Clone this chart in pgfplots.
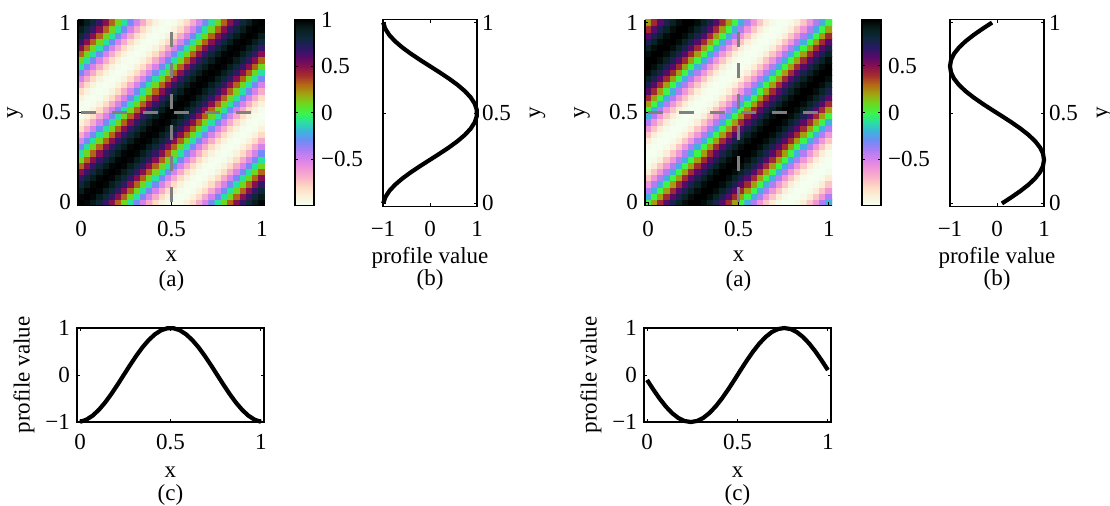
\documentclass[border=0pt]{standalone}
\usepackage{fontspec}
\setmainfont{Liberation Serif}
\usepackage{pgfplots}
\pgfplotsset{compat=1.18}
\newcommand{\ff}{\fontsize{11.5}{13}\selectfont}
\pgfplotsset{
 colormap={prof}{rgb255=(244,255,240) rgb255=(250,242,220) rgb255=(255,218,196) rgb255=(250,180,200) rgb255=(240,150,215) rgb255=(215,130,235) rgb255=(170,125,245) rgb255=(110,140,245) rgb255=(60,180,220) rgb255=(40,225,160) rgb255=(60,245,70) rgb255=(110,215,30) rgb255=(160,165,15) rgb255=(180,105,20) rgb255=(165,45,45) rgb255=(135,15,80) rgb255=(85,10,105) rgb255=(40,25,100) rgb255=(15,40,60) rgb255=(8,32,30) rgb255=(0,0,0)},
 base/.style={scale only axis, font=\ff, tick label style={font=\ff}, label style={font=\ff}, tick align=inside, major tick length=1.6pt, axis line style={line width=0.6pt}, every tick/.style={black, line width=0.5pt}},
 hm/.style={base, width=93.5pt, height=93pt, xmin=-0.5, xmax=29.5, ymin=-0.5, ymax=29.5,
   axis x line*=bottom, axis y line*=left, axis line style={-},
   xtick={0,14.5,29}, ytick={0,14.5,29}, xticklabels={0,0.5,1}, yticklabels={0,0.5,1},
   axis on top, colormap name=prof, xticklabel style={yshift=-4.5pt},
   xlabel={x}, xlabel style={at={(axis description cs:0.5,0)}, anchor=center, yshift=-25.25pt},
   ylabel={y}, ylabel style={at={(axis description cs:-0.337,0.5)}, anchor=center},
   colorbar, colorbar style={scale only axis, width=9.5pt, height=93pt, at={(parent axis.north east)}, anchor=north west, xshift=6.5pt, tick align=inside, major tick length=1.6pt, ytick pos=both, yticklabel pos=right, axis line style={line width=0.9pt}, font=\ff, tick label style={font=\ff}}},
 pb/.style={base, width=47pt, height=93.5pt, xmin=-1, xmax=1, ymin=-0.017, ymax=1.017, clip=false,
   xtick={-1,0,1}, xticklabels={−1,0,1}, ytick={0,0.5,1}, yticklabels={0,0.5,1}, yticklabel pos=right,
   xticklabel style={yshift=-3.8pt}, yticklabel style={xshift=-1pt},
   xlabel={profile value}, xlabel style={at={(axis description cs:0.5,0)}, anchor=center, yshift=-25.5pt},
   ylabel={y}, ylabel style={at={(axis description cs:1.644,0.5)}, anchor=center}},
 pc/.style={base, width=93.5pt, height=47pt, xmin=-0.017, xmax=1.017, ymin=-1, ymax=1, clip=false,
   xtick={0,0.5,1}, xticklabels={0,0.5,1}, ytick={-1,0,1}, yticklabels={−1,0,1},
   xticklabel style={yshift=-2.5pt},
   xlabel={x}, xlabel style={at={(axis description cs:0.5,0)}, anchor=center, yshift=-25pt},
   ylabel={profile value}, ylabel style={at={(axis description cs:-0.283,0.5)}, anchor=center}},
 dl/.style={color=gray, line width=1.7pt, dash pattern=on 7.5pt off 8pt},
 pl/.style={black, line width=2.1pt},
}
\pgfplotstableread{
y lb rb
0 -0.995 0.105
0.0345 -0.951 0.309
0.069 -0.866 0.5
0.1034 -0.743 0.669
0.1379 -0.588 0.809
0.1724 -0.407 0.914
0.2069 -0.208 0.978
0.2414 0 1
0.2759 0.208 0.978
0.3103 0.407 0.914
0.3448 0.588 0.809
0.3793 0.743 0.669
0.4138 0.866 0.5
0.4483 0.951 0.309
0.4828 0.995 0.105
0.5172 0.995 -0.105
0.5517 0.951 -0.309
0.5862 0.866 -0.5
0.6207 0.743 -0.669
0.6552 0.588 -0.809
0.6897 0.407 -0.914
0.7241 0.208 -0.978
0.7586 0 -1
0.7931 -0.208 -0.978
0.8276 -0.407 -0.914
0.8621 -0.588 -0.809
0.8966 -0.743 -0.669
0.931 -0.866 -0.5
0.9655 -0.951 -0.309
1 -0.995 -0.105
}\profb
\pgfplotstableread{
x lc rc
0 -0.995 -0.105
0.0345 -0.951 -0.309
0.069 -0.866 -0.5
0.1034 -0.743 -0.669
0.1379 -0.588 -0.809
0.1724 -0.407 -0.914
0.2069 -0.208 -0.978
0.2414 0 -1
0.2759 0.208 -0.978
0.3103 0.407 -0.914
0.3448 0.588 -0.809
0.3793 0.743 -0.669
0.4138 0.866 -0.5
0.4483 0.951 -0.309
0.4828 0.995 -0.105
0.5172 0.995 0.105
0.5517 0.951 0.309
0.5862 0.866 0.5
0.6207 0.743 0.669
0.6552 0.588 0.809
0.6897 0.407 0.914
0.7241 0.208 0.978
0.7586 0 1
0.7931 -0.208 0.978
0.8276 -0.407 0.914
0.8621 -0.588 0.809
0.8966 -0.743 0.669
0.931 -0.866 0.5
0.9655 -0.951 0.309
1 -0.995 0.105
}\profc
\begin{document}
\begin{tikzpicture}
\useasboundingbox (0,0) rectangle (555pt,-252.5pt);
% ---------- left (a)
\begin{axis}[hm, name=la, at={(39pt,-9.75pt)}, anchor=north west,
  colorbar style={ytick={-0.5,0,0.5,1}, yticklabels={−0.5,0,0.5,1}}]
\addplot[matrix plot*, mesh/cols=30, point meta=explicit] table[row sep=\\, meta=z] {
x y z\\
0 0 1\\ 1 0 0.98\\ 2 0 0.91\\ 3 0 0.81\\ 4 0 0.67\\ 5 0 0.5\\ 6 0 0.31\\ 7 0 0.1\\ 8 0 -0.1\\ 9 0 -0.31\\ 10 0 -0.5\\ 11 0 -0.67\\ 12 0 -0.81\\ 13 0 -0.91\\ 14 0 -0.98\\ 15 0 -1\\ 16 0 -0.98\\ 17 0 -0.91\\ 18 0 -0.81\\ 19 0 -0.67\\ 20 0 -0.5\\ 21 0 -0.31\\ 22 0 -0.1\\ 23 0 0.1\\ 24 0 0.31\\ 25 0 0.5\\ 26 0 0.67\\ 27 0 0.81\\ 28 0 0.91\\ 29 0 0.98\\
0 1 0.98\\ 1 1 1\\ 2 1 0.98\\ 3 1 0.91\\ 4 1 0.81\\ 5 1 0.67\\ 6 1 0.5\\ 7 1 0.31\\ 8 1 0.1\\ 9 1 -0.1\\ 10 1 -0.31\\ 11 1 -0.5\\ 12 1 -0.67\\ 13 1 -0.81\\ 14 1 -0.91\\ 15 1 -0.98\\ 16 1 -1\\ 17 1 -0.98\\ 18 1 -0.91\\ 19 1 -0.81\\ 20 1 -0.67\\ 21 1 -0.5\\ 22 1 -0.31\\ 23 1 -0.1\\ 24 1 0.1\\ 25 1 0.31\\ 26 1 0.5\\ 27 1 0.67\\ 28 1 0.81\\ 29 1 0.91\\
0 2 0.91\\ 1 2 0.98\\ 2 2 1\\ 3 2 0.98\\ 4 2 0.91\\ 5 2 0.81\\ 6 2 0.67\\ 7 2 0.5\\ 8 2 0.31\\ 9 2 0.1\\ 10 2 -0.1\\ 11 2 -0.31\\ 12 2 -0.5\\ 13 2 -0.67\\ 14 2 -0.81\\ 15 2 -0.91\\ 16 2 -0.98\\ 17 2 -1\\ 18 2 -0.98\\ 19 2 -0.91\\ 20 2 -0.81\\ 21 2 -0.67\\ 22 2 -0.5\\ 23 2 -0.31\\ 24 2 -0.1\\ 25 2 0.1\\ 26 2 0.31\\ 27 2 0.5\\ 28 2 0.67\\ 29 2 0.81\\
0 3 0.81\\ 1 3 0.91\\ 2 3 0.98\\ 3 3 1\\ 4 3 0.98\\ 5 3 0.91\\ 6 3 0.81\\ 7 3 0.67\\ 8 3 0.5\\ 9 3 0.31\\ 10 3 0.1\\ 11 3 -0.1\\ 12 3 -0.31\\ 13 3 -0.5\\ 14 3 -0.67\\ 15 3 -0.81\\ 16 3 -0.91\\ 17 3 -0.98\\ 18 3 -1\\ 19 3 -0.98\\ 20 3 -0.91\\ 21 3 -0.81\\ 22 3 -0.67\\ 23 3 -0.5\\ 24 3 -0.31\\ 25 3 -0.1\\ 26 3 0.1\\ 27 3 0.31\\ 28 3 0.5\\ 29 3 0.67\\
0 4 0.67\\ 1 4 0.81\\ 2 4 0.91\\ 3 4 0.98\\ 4 4 1\\ 5 4 0.98\\ 6 4 0.91\\ 7 4 0.81\\ 8 4 0.67\\ 9 4 0.5\\ 10 4 0.31\\ 11 4 0.1\\ 12 4 -0.1\\ 13 4 -0.31\\ 14 4 -0.5\\ 15 4 -0.67\\ 16 4 -0.81\\ 17 4 -0.91\\ 18 4 -0.98\\ 19 4 -1\\ 20 4 -0.98\\ 21 4 -0.91\\ 22 4 -0.81\\ 23 4 -0.67\\ 24 4 -0.5\\ 25 4 -0.31\\ 26 4 -0.1\\ 27 4 0.1\\ 28 4 0.31\\ 29 4 0.5\\
0 5 0.5\\ 1 5 0.67\\ 2 5 0.81\\ 3 5 0.91\\ 4 5 0.98\\ 5 5 1\\ 6 5 0.98\\ 7 5 0.91\\ 8 5 0.81\\ 9 5 0.67\\ 10 5 0.5\\ 11 5 0.31\\ 12 5 0.1\\ 13 5 -0.1\\ 14 5 -0.31\\ 15 5 -0.5\\ 16 5 -0.67\\ 17 5 -0.81\\ 18 5 -0.91\\ 19 5 -0.98\\ 20 5 -1\\ 21 5 -0.98\\ 22 5 -0.91\\ 23 5 -0.81\\ 24 5 -0.67\\ 25 5 -0.5\\ 26 5 -0.31\\ 27 5 -0.1\\ 28 5 0.1\\ 29 5 0.31\\
0 6 0.31\\ 1 6 0.5\\ 2 6 0.67\\ 3 6 0.81\\ 4 6 0.91\\ 5 6 0.98\\ 6 6 1\\ 7 6 0.98\\ 8 6 0.91\\ 9 6 0.81\\ 10 6 0.67\\ 11 6 0.5\\ 12 6 0.31\\ 13 6 0.1\\ 14 6 -0.1\\ 15 6 -0.31\\ 16 6 -0.5\\ 17 6 -0.67\\ 18 6 -0.81\\ 19 6 -0.91\\ 20 6 -0.98\\ 21 6 -1\\ 22 6 -0.98\\ 23 6 -0.91\\ 24 6 -0.81\\ 25 6 -0.67\\ 26 6 -0.5\\ 27 6 -0.31\\ 28 6 -0.1\\ 29 6 0.1\\
0 7 0.1\\ 1 7 0.31\\ 2 7 0.5\\ 3 7 0.67\\ 4 7 0.81\\ 5 7 0.91\\ 6 7 0.98\\ 7 7 1\\ 8 7 0.98\\ 9 7 0.91\\ 10 7 0.81\\ 11 7 0.67\\ 12 7 0.5\\ 13 7 0.31\\ 14 7 0.1\\ 15 7 -0.1\\ 16 7 -0.31\\ 17 7 -0.5\\ 18 7 -0.67\\ 19 7 -0.81\\ 20 7 -0.91\\ 21 7 -0.98\\ 22 7 -1\\ 23 7 -0.98\\ 24 7 -0.91\\ 25 7 -0.81\\ 26 7 -0.67\\ 27 7 -0.5\\ 28 7 -0.31\\ 29 7 -0.1\\
0 8 -0.1\\ 1 8 0.1\\ 2 8 0.31\\ 3 8 0.5\\ 4 8 0.67\\ 5 8 0.81\\ 6 8 0.91\\ 7 8 0.98\\ 8 8 1\\ 9 8 0.98\\ 10 8 0.91\\ 11 8 0.81\\ 12 8 0.67\\ 13 8 0.5\\ 14 8 0.31\\ 15 8 0.1\\ 16 8 -0.1\\ 17 8 -0.31\\ 18 8 -0.5\\ 19 8 -0.67\\ 20 8 -0.81\\ 21 8 -0.91\\ 22 8 -0.98\\ 23 8 -1\\ 24 8 -0.98\\ 25 8 -0.91\\ 26 8 -0.81\\ 27 8 -0.67\\ 28 8 -0.5\\ 29 8 -0.31\\
0 9 -0.31\\ 1 9 -0.1\\ 2 9 0.1\\ 3 9 0.31\\ 4 9 0.5\\ 5 9 0.67\\ 6 9 0.81\\ 7 9 0.91\\ 8 9 0.98\\ 9 9 1\\ 10 9 0.98\\ 11 9 0.91\\ 12 9 0.81\\ 13 9 0.67\\ 14 9 0.5\\ 15 9 0.31\\ 16 9 0.1\\ 17 9 -0.1\\ 18 9 -0.31\\ 19 9 -0.5\\ 20 9 -0.67\\ 21 9 -0.81\\ 22 9 -0.91\\ 23 9 -0.98\\ 24 9 -1\\ 25 9 -0.98\\ 26 9 -0.91\\ 27 9 -0.81\\ 28 9 -0.67\\ 29 9 -0.5\\
0 10 -0.5\\ 1 10 -0.31\\ 2 10 -0.1\\ 3 10 0.1\\ 4 10 0.31\\ 5 10 0.5\\ 6 10 0.67\\ 7 10 0.81\\ 8 10 0.91\\ 9 10 0.98\\ 10 10 1\\ 11 10 0.98\\ 12 10 0.91\\ 13 10 0.81\\ 14 10 0.67\\ 15 10 0.5\\ 16 10 0.31\\ 17 10 0.1\\ 18 10 -0.1\\ 19 10 -0.31\\ 20 10 -0.5\\ 21 10 -0.67\\ 22 10 -0.81\\ 23 10 -0.91\\ 24 10 -0.98\\ 25 10 -1\\ 26 10 -0.98\\ 27 10 -0.91\\ 28 10 -0.81\\ 29 10 -0.67\\
0 11 -0.67\\ 1 11 -0.5\\ 2 11 -0.31\\ 3 11 -0.1\\ 4 11 0.1\\ 5 11 0.31\\ 6 11 0.5\\ 7 11 0.67\\ 8 11 0.81\\ 9 11 0.91\\ 10 11 0.98\\ 11 11 1\\ 12 11 0.98\\ 13 11 0.91\\ 14 11 0.81\\ 15 11 0.67\\ 16 11 0.5\\ 17 11 0.31\\ 18 11 0.1\\ 19 11 -0.1\\ 20 11 -0.31\\ 21 11 -0.5\\ 22 11 -0.67\\ 23 11 -0.81\\ 24 11 -0.91\\ 25 11 -0.98\\ 26 11 -1\\ 27 11 -0.98\\ 28 11 -0.91\\ 29 11 -0.81\\
0 12 -0.81\\ 1 12 -0.67\\ 2 12 -0.5\\ 3 12 -0.31\\ 4 12 -0.1\\ 5 12 0.1\\ 6 12 0.31\\ 7 12 0.5\\ 8 12 0.67\\ 9 12 0.81\\ 10 12 0.91\\ 11 12 0.98\\ 12 12 1\\ 13 12 0.98\\ 14 12 0.91\\ 15 12 0.81\\ 16 12 0.67\\ 17 12 0.5\\ 18 12 0.31\\ 19 12 0.1\\ 20 12 -0.1\\ 21 12 -0.31\\ 22 12 -0.5\\ 23 12 -0.67\\ 24 12 -0.81\\ 25 12 -0.91\\ 26 12 -0.98\\ 27 12 -1\\ 28 12 -0.98\\ 29 12 -0.91\\
0 13 -0.91\\ 1 13 -0.81\\ 2 13 -0.67\\ 3 13 -0.5\\ 4 13 -0.31\\ 5 13 -0.1\\ 6 13 0.1\\ 7 13 0.31\\ 8 13 0.5\\ 9 13 0.67\\ 10 13 0.81\\ 11 13 0.91\\ 12 13 0.98\\ 13 13 1\\ 14 13 0.98\\ 15 13 0.91\\ 16 13 0.81\\ 17 13 0.67\\ 18 13 0.5\\ 19 13 0.31\\ 20 13 0.1\\ 21 13 -0.1\\ 22 13 -0.31\\ 23 13 -0.5\\ 24 13 -0.67\\ 25 13 -0.81\\ 26 13 -0.91\\ 27 13 -0.98\\ 28 13 -1\\ 29 13 -0.98\\
0 14 -0.98\\ 1 14 -0.91\\ 2 14 -0.81\\ 3 14 -0.67\\ 4 14 -0.5\\ 5 14 -0.31\\ 6 14 -0.1\\ 7 14 0.1\\ 8 14 0.31\\ 9 14 0.5\\ 10 14 0.67\\ 11 14 0.81\\ 12 14 0.91\\ 13 14 0.98\\ 14 14 1\\ 15 14 0.98\\ 16 14 0.91\\ 17 14 0.81\\ 18 14 0.67\\ 19 14 0.5\\ 20 14 0.31\\ 21 14 0.1\\ 22 14 -0.1\\ 23 14 -0.31\\ 24 14 -0.5\\ 25 14 -0.67\\ 26 14 -0.81\\ 27 14 -0.91\\ 28 14 -0.98\\ 29 14 -1\\
0 15 -1\\ 1 15 -0.98\\ 2 15 -0.91\\ 3 15 -0.81\\ 4 15 -0.67\\ 5 15 -0.5\\ 6 15 -0.31\\ 7 15 -0.1\\ 8 15 0.1\\ 9 15 0.31\\ 10 15 0.5\\ 11 15 0.67\\ 12 15 0.81\\ 13 15 0.91\\ 14 15 0.98\\ 15 15 1\\ 16 15 0.98\\ 17 15 0.91\\ 18 15 0.81\\ 19 15 0.67\\ 20 15 0.5\\ 21 15 0.31\\ 22 15 0.1\\ 23 15 -0.1\\ 24 15 -0.31\\ 25 15 -0.5\\ 26 15 -0.67\\ 27 15 -0.81\\ 28 15 -0.91\\ 29 15 -0.98\\
0 16 -0.98\\ 1 16 -1\\ 2 16 -0.98\\ 3 16 -0.91\\ 4 16 -0.81\\ 5 16 -0.67\\ 6 16 -0.5\\ 7 16 -0.31\\ 8 16 -0.1\\ 9 16 0.1\\ 10 16 0.31\\ 11 16 0.5\\ 12 16 0.67\\ 13 16 0.81\\ 14 16 0.91\\ 15 16 0.98\\ 16 16 1\\ 17 16 0.98\\ 18 16 0.91\\ 19 16 0.81\\ 20 16 0.67\\ 21 16 0.5\\ 22 16 0.31\\ 23 16 0.1\\ 24 16 -0.1\\ 25 16 -0.31\\ 26 16 -0.5\\ 27 16 -0.67\\ 28 16 -0.81\\ 29 16 -0.91\\
0 17 -0.91\\ 1 17 -0.98\\ 2 17 -1\\ 3 17 -0.98\\ 4 17 -0.91\\ 5 17 -0.81\\ 6 17 -0.67\\ 7 17 -0.5\\ 8 17 -0.31\\ 9 17 -0.1\\ 10 17 0.1\\ 11 17 0.31\\ 12 17 0.5\\ 13 17 0.67\\ 14 17 0.81\\ 15 17 0.91\\ 16 17 0.98\\ 17 17 1\\ 18 17 0.98\\ 19 17 0.91\\ 20 17 0.81\\ 21 17 0.67\\ 22 17 0.5\\ 23 17 0.31\\ 24 17 0.1\\ 25 17 -0.1\\ 26 17 -0.31\\ 27 17 -0.5\\ 28 17 -0.67\\ 29 17 -0.81\\
0 18 -0.81\\ 1 18 -0.91\\ 2 18 -0.98\\ 3 18 -1\\ 4 18 -0.98\\ 5 18 -0.91\\ 6 18 -0.81\\ 7 18 -0.67\\ 8 18 -0.5\\ 9 18 -0.31\\ 10 18 -0.1\\ 11 18 0.1\\ 12 18 0.31\\ 13 18 0.5\\ 14 18 0.67\\ 15 18 0.81\\ 16 18 0.91\\ 17 18 0.98\\ 18 18 1\\ 19 18 0.98\\ 20 18 0.91\\ 21 18 0.81\\ 22 18 0.67\\ 23 18 0.5\\ 24 18 0.31\\ 25 18 0.1\\ 26 18 -0.1\\ 27 18 -0.31\\ 28 18 -0.5\\ 29 18 -0.67\\
0 19 -0.67\\ 1 19 -0.81\\ 2 19 -0.91\\ 3 19 -0.98\\ 4 19 -1\\ 5 19 -0.98\\ 6 19 -0.91\\ 7 19 -0.81\\ 8 19 -0.67\\ 9 19 -0.5\\ 10 19 -0.31\\ 11 19 -0.1\\ 12 19 0.1\\ 13 19 0.31\\ 14 19 0.5\\ 15 19 0.67\\ 16 19 0.81\\ 17 19 0.91\\ 18 19 0.98\\ 19 19 1\\ 20 19 0.98\\ 21 19 0.91\\ 22 19 0.81\\ 23 19 0.67\\ 24 19 0.5\\ 25 19 0.31\\ 26 19 0.1\\ 27 19 -0.1\\ 28 19 -0.31\\ 29 19 -0.5\\
0 20 -0.5\\ 1 20 -0.67\\ 2 20 -0.81\\ 3 20 -0.91\\ 4 20 -0.98\\ 5 20 -1\\ 6 20 -0.98\\ 7 20 -0.91\\ 8 20 -0.81\\ 9 20 -0.67\\ 10 20 -0.5\\ 11 20 -0.31\\ 12 20 -0.1\\ 13 20 0.1\\ 14 20 0.31\\ 15 20 0.5\\ 16 20 0.67\\ 17 20 0.81\\ 18 20 0.91\\ 19 20 0.98\\ 20 20 1\\ 21 20 0.98\\ 22 20 0.91\\ 23 20 0.81\\ 24 20 0.67\\ 25 20 0.5\\ 26 20 0.31\\ 27 20 0.1\\ 28 20 -0.1\\ 29 20 -0.31\\
0 21 -0.31\\ 1 21 -0.5\\ 2 21 -0.67\\ 3 21 -0.81\\ 4 21 -0.91\\ 5 21 -0.98\\ 6 21 -1\\ 7 21 -0.98\\ 8 21 -0.91\\ 9 21 -0.81\\ 10 21 -0.67\\ 11 21 -0.5\\ 12 21 -0.31\\ 13 21 -0.1\\ 14 21 0.1\\ 15 21 0.31\\ 16 21 0.5\\ 17 21 0.67\\ 18 21 0.81\\ 19 21 0.91\\ 20 21 0.98\\ 21 21 1\\ 22 21 0.98\\ 23 21 0.91\\ 24 21 0.81\\ 25 21 0.67\\ 26 21 0.5\\ 27 21 0.31\\ 28 21 0.1\\ 29 21 -0.1\\
0 22 -0.1\\ 1 22 -0.31\\ 2 22 -0.5\\ 3 22 -0.67\\ 4 22 -0.81\\ 5 22 -0.91\\ 6 22 -0.98\\ 7 22 -1\\ 8 22 -0.98\\ 9 22 -0.91\\ 10 22 -0.81\\ 11 22 -0.67\\ 12 22 -0.5\\ 13 22 -0.31\\ 14 22 -0.1\\ 15 22 0.1\\ 16 22 0.31\\ 17 22 0.5\\ 18 22 0.67\\ 19 22 0.81\\ 20 22 0.91\\ 21 22 0.98\\ 22 22 1\\ 23 22 0.98\\ 24 22 0.91\\ 25 22 0.81\\ 26 22 0.67\\ 27 22 0.5\\ 28 22 0.31\\ 29 22 0.1\\
0 23 0.1\\ 1 23 -0.1\\ 2 23 -0.31\\ 3 23 -0.5\\ 4 23 -0.67\\ 5 23 -0.81\\ 6 23 -0.91\\ 7 23 -0.98\\ 8 23 -1\\ 9 23 -0.98\\ 10 23 -0.91\\ 11 23 -0.81\\ 12 23 -0.67\\ 13 23 -0.5\\ 14 23 -0.31\\ 15 23 -0.1\\ 16 23 0.1\\ 17 23 0.31\\ 18 23 0.5\\ 19 23 0.67\\ 20 23 0.81\\ 21 23 0.91\\ 22 23 0.98\\ 23 23 1\\ 24 23 0.98\\ 25 23 0.91\\ 26 23 0.81\\ 27 23 0.67\\ 28 23 0.5\\ 29 23 0.31\\
0 24 0.31\\ 1 24 0.1\\ 2 24 -0.1\\ 3 24 -0.31\\ 4 24 -0.5\\ 5 24 -0.67\\ 6 24 -0.81\\ 7 24 -0.91\\ 8 24 -0.98\\ 9 24 -1\\ 10 24 -0.98\\ 11 24 -0.91\\ 12 24 -0.81\\ 13 24 -0.67\\ 14 24 -0.5\\ 15 24 -0.31\\ 16 24 -0.1\\ 17 24 0.1\\ 18 24 0.31\\ 19 24 0.5\\ 20 24 0.67\\ 21 24 0.81\\ 22 24 0.91\\ 23 24 0.98\\ 24 24 1\\ 25 24 0.98\\ 26 24 0.91\\ 27 24 0.81\\ 28 24 0.67\\ 29 24 0.5\\
0 25 0.5\\ 1 25 0.31\\ 2 25 0.1\\ 3 25 -0.1\\ 4 25 -0.31\\ 5 25 -0.5\\ 6 25 -0.67\\ 7 25 -0.81\\ 8 25 -0.91\\ 9 25 -0.98\\ 10 25 -1\\ 11 25 -0.98\\ 12 25 -0.91\\ 13 25 -0.81\\ 14 25 -0.67\\ 15 25 -0.5\\ 16 25 -0.31\\ 17 25 -0.1\\ 18 25 0.1\\ 19 25 0.31\\ 20 25 0.5\\ 21 25 0.67\\ 22 25 0.81\\ 23 25 0.91\\ 24 25 0.98\\ 25 25 1\\ 26 25 0.98\\ 27 25 0.91\\ 28 25 0.81\\ 29 25 0.67\\
0 26 0.67\\ 1 26 0.5\\ 2 26 0.31\\ 3 26 0.1\\ 4 26 -0.1\\ 5 26 -0.31\\ 6 26 -0.5\\ 7 26 -0.67\\ 8 26 -0.81\\ 9 26 -0.91\\ 10 26 -0.98\\ 11 26 -1\\ 12 26 -0.98\\ 13 26 -0.91\\ 14 26 -0.81\\ 15 26 -0.67\\ 16 26 -0.5\\ 17 26 -0.31\\ 18 26 -0.1\\ 19 26 0.1\\ 20 26 0.31\\ 21 26 0.5\\ 22 26 0.67\\ 23 26 0.81\\ 24 26 0.91\\ 25 26 0.98\\ 26 26 1\\ 27 26 0.98\\ 28 26 0.91\\ 29 26 0.81\\
0 27 0.81\\ 1 27 0.67\\ 2 27 0.5\\ 3 27 0.31\\ 4 27 0.1\\ 5 27 -0.1\\ 6 27 -0.31\\ 7 27 -0.5\\ 8 27 -0.67\\ 9 27 -0.81\\ 10 27 -0.91\\ 11 27 -0.98\\ 12 27 -1\\ 13 27 -0.98\\ 14 27 -0.91\\ 15 27 -0.81\\ 16 27 -0.67\\ 17 27 -0.5\\ 18 27 -0.31\\ 19 27 -0.1\\ 20 27 0.1\\ 21 27 0.31\\ 22 27 0.5\\ 23 27 0.67\\ 24 27 0.81\\ 25 27 0.91\\ 26 27 0.98\\ 27 27 1\\ 28 27 0.98\\ 29 27 0.91\\
0 28 0.91\\ 1 28 0.81\\ 2 28 0.67\\ 3 28 0.5\\ 4 28 0.31\\ 5 28 0.1\\ 6 28 -0.1\\ 7 28 -0.31\\ 8 28 -0.5\\ 9 28 -0.67\\ 10 28 -0.81\\ 11 28 -0.91\\ 12 28 -0.98\\ 13 28 -1\\ 14 28 -0.98\\ 15 28 -0.91\\ 16 28 -0.81\\ 17 28 -0.67\\ 18 28 -0.5\\ 19 28 -0.31\\ 20 28 -0.1\\ 21 28 0.1\\ 22 28 0.31\\ 23 28 0.5\\ 24 28 0.67\\ 25 28 0.81\\ 26 28 0.91\\ 27 28 0.98\\ 28 28 1\\ 29 28 0.98\\
0 29 0.98\\ 1 29 0.91\\ 2 29 0.81\\ 3 29 0.67\\ 4 29 0.5\\ 5 29 0.31\\ 6 29 0.1\\ 7 29 -0.1\\ 8 29 -0.31\\ 9 29 -0.5\\ 10 29 -0.67\\ 11 29 -0.81\\ 12 29 -0.91\\ 13 29 -0.98\\ 14 29 -1\\ 15 29 -0.98\\ 16 29 -0.91\\ 17 29 -0.81\\ 18 29 -0.67\\ 19 29 -0.5\\ 20 29 -0.31\\ 21 29 -0.1\\ 22 29 0.1\\ 23 29 0.31\\ 24 29 0.5\\ 25 29 0.67\\ 26 29 0.81\\ 27 29 0.91\\ 28 29 0.98\\ 29 29 1\\
};
\addplot[dl] coordinates {(14.5,0) (14.5,29)};
\addplot[dl] coordinates {(0,14.5) (29,14.5)};
\end{axis}
\node[font=\ff] at ([yshift=-37.75pt]la.south) {(a)};
% ---------- left (b)
\begin{axis}[pb, name=lb, at={(191.5pt,-9.75pt)}, anchor=north west]
\addplot[pl] table[x=lb, y=y] {\profb};
\end{axis}
\node[font=\ff] at ([yshift=-36.75pt]lb.south) {(b)};
% ---------- left (c)
\begin{axis}[pc, name=lc, at={(38.5pt,-164pt)}, anchor=north west]
\addplot[pl] table[x=x, y=lc] {\profc};
\end{axis}
\node[font=\ff] at ([yshift=-36.5pt]lc.south) {(c)};
% ---------- right (a)
\begin{axis}[hm, name=ra, at={(322.5pt,-9.75pt)}, anchor=north west,
  colorbar style={ytick={-0.5,0,0.5}, yticklabels={−0.5,0,0.5}}]
\addplot[matrix plot*, mesh/cols=30, point meta=explicit] table[row sep=\\, meta=z] {
x y z\\
0 0 0\\ 1 0 0.21\\ 2 0 0.41\\ 3 0 0.59\\ 4 0 0.74\\ 5 0 0.87\\ 6 0 0.95\\ 7 0 0.99\\ 8 0 0.99\\ 9 0 0.95\\ 10 0 0.87\\ 11 0 0.74\\ 12 0 0.59\\ 13 0 0.41\\ 14 0 0.21\\ 15 0 0\\ 16 0 -0.21\\ 17 0 -0.41\\ 18 0 -0.59\\ 19 0 -0.74\\ 20 0 -0.87\\ 21 0 -0.95\\ 22 0 -0.99\\ 23 0 -0.99\\ 24 0 -0.95\\ 25 0 -0.87\\ 26 0 -0.74\\ 27 0 -0.59\\ 28 0 -0.41\\ 29 0 -0.21\\
0 1 -0.21\\ 1 1 0\\ 2 1 0.21\\ 3 1 0.41\\ 4 1 0.59\\ 5 1 0.74\\ 6 1 0.87\\ 7 1 0.95\\ 8 1 0.99\\ 9 1 0.99\\ 10 1 0.95\\ 11 1 0.87\\ 12 1 0.74\\ 13 1 0.59\\ 14 1 0.41\\ 15 1 0.21\\ 16 1 0\\ 17 1 -0.21\\ 18 1 -0.41\\ 19 1 -0.59\\ 20 1 -0.74\\ 21 1 -0.87\\ 22 1 -0.95\\ 23 1 -0.99\\ 24 1 -0.99\\ 25 1 -0.95\\ 26 1 -0.87\\ 27 1 -0.74\\ 28 1 -0.59\\ 29 1 -0.41\\
0 2 -0.41\\ 1 2 -0.21\\ 2 2 0\\ 3 2 0.21\\ 4 2 0.41\\ 5 2 0.59\\ 6 2 0.74\\ 7 2 0.87\\ 8 2 0.95\\ 9 2 0.99\\ 10 2 0.99\\ 11 2 0.95\\ 12 2 0.87\\ 13 2 0.74\\ 14 2 0.59\\ 15 2 0.41\\ 16 2 0.21\\ 17 2 0\\ 18 2 -0.21\\ 19 2 -0.41\\ 20 2 -0.59\\ 21 2 -0.74\\ 22 2 -0.87\\ 23 2 -0.95\\ 24 2 -0.99\\ 25 2 -0.99\\ 26 2 -0.95\\ 27 2 -0.87\\ 28 2 -0.74\\ 29 2 -0.59\\
0 3 -0.59\\ 1 3 -0.41\\ 2 3 -0.21\\ 3 3 0\\ 4 3 0.21\\ 5 3 0.41\\ 6 3 0.59\\ 7 3 0.74\\ 8 3 0.87\\ 9 3 0.95\\ 10 3 0.99\\ 11 3 0.99\\ 12 3 0.95\\ 13 3 0.87\\ 14 3 0.74\\ 15 3 0.59\\ 16 3 0.41\\ 17 3 0.21\\ 18 3 0\\ 19 3 -0.21\\ 20 3 -0.41\\ 21 3 -0.59\\ 22 3 -0.74\\ 23 3 -0.87\\ 24 3 -0.95\\ 25 3 -0.99\\ 26 3 -0.99\\ 27 3 -0.95\\ 28 3 -0.87\\ 29 3 -0.74\\
0 4 -0.74\\ 1 4 -0.59\\ 2 4 -0.41\\ 3 4 -0.21\\ 4 4 0\\ 5 4 0.21\\ 6 4 0.41\\ 7 4 0.59\\ 8 4 0.74\\ 9 4 0.87\\ 10 4 0.95\\ 11 4 0.99\\ 12 4 0.99\\ 13 4 0.95\\ 14 4 0.87\\ 15 4 0.74\\ 16 4 0.59\\ 17 4 0.41\\ 18 4 0.21\\ 19 4 0\\ 20 4 -0.21\\ 21 4 -0.41\\ 22 4 -0.59\\ 23 4 -0.74\\ 24 4 -0.87\\ 25 4 -0.95\\ 26 4 -0.99\\ 27 4 -0.99\\ 28 4 -0.95\\ 29 4 -0.87\\
0 5 -0.87\\ 1 5 -0.74\\ 2 5 -0.59\\ 3 5 -0.41\\ 4 5 -0.21\\ 5 5 0\\ 6 5 0.21\\ 7 5 0.41\\ 8 5 0.59\\ 9 5 0.74\\ 10 5 0.87\\ 11 5 0.95\\ 12 5 0.99\\ 13 5 0.99\\ 14 5 0.95\\ 15 5 0.87\\ 16 5 0.74\\ 17 5 0.59\\ 18 5 0.41\\ 19 5 0.21\\ 20 5 0\\ 21 5 -0.21\\ 22 5 -0.41\\ 23 5 -0.59\\ 24 5 -0.74\\ 25 5 -0.87\\ 26 5 -0.95\\ 27 5 -0.99\\ 28 5 -0.99\\ 29 5 -0.95\\
0 6 -0.95\\ 1 6 -0.87\\ 2 6 -0.74\\ 3 6 -0.59\\ 4 6 -0.41\\ 5 6 -0.21\\ 6 6 0\\ 7 6 0.21\\ 8 6 0.41\\ 9 6 0.59\\ 10 6 0.74\\ 11 6 0.87\\ 12 6 0.95\\ 13 6 0.99\\ 14 6 0.99\\ 15 6 0.95\\ 16 6 0.87\\ 17 6 0.74\\ 18 6 0.59\\ 19 6 0.41\\ 20 6 0.21\\ 21 6 0\\ 22 6 -0.21\\ 23 6 -0.41\\ 24 6 -0.59\\ 25 6 -0.74\\ 26 6 -0.87\\ 27 6 -0.95\\ 28 6 -0.99\\ 29 6 -0.99\\
0 7 -0.99\\ 1 7 -0.95\\ 2 7 -0.87\\ 3 7 -0.74\\ 4 7 -0.59\\ 5 7 -0.41\\ 6 7 -0.21\\ 7 7 0\\ 8 7 0.21\\ 9 7 0.41\\ 10 7 0.59\\ 11 7 0.74\\ 12 7 0.87\\ 13 7 0.95\\ 14 7 0.99\\ 15 7 0.99\\ 16 7 0.95\\ 17 7 0.87\\ 18 7 0.74\\ 19 7 0.59\\ 20 7 0.41\\ 21 7 0.21\\ 22 7 0\\ 23 7 -0.21\\ 24 7 -0.41\\ 25 7 -0.59\\ 26 7 -0.74\\ 27 7 -0.87\\ 28 7 -0.95\\ 29 7 -0.99\\
0 8 -0.99\\ 1 8 -0.99\\ 2 8 -0.95\\ 3 8 -0.87\\ 4 8 -0.74\\ 5 8 -0.59\\ 6 8 -0.41\\ 7 8 -0.21\\ 8 8 0\\ 9 8 0.21\\ 10 8 0.41\\ 11 8 0.59\\ 12 8 0.74\\ 13 8 0.87\\ 14 8 0.95\\ 15 8 0.99\\ 16 8 0.99\\ 17 8 0.95\\ 18 8 0.87\\ 19 8 0.74\\ 20 8 0.59\\ 21 8 0.41\\ 22 8 0.21\\ 23 8 0\\ 24 8 -0.21\\ 25 8 -0.41\\ 26 8 -0.59\\ 27 8 -0.74\\ 28 8 -0.87\\ 29 8 -0.95\\
0 9 -0.95\\ 1 9 -0.99\\ 2 9 -0.99\\ 3 9 -0.95\\ 4 9 -0.87\\ 5 9 -0.74\\ 6 9 -0.59\\ 7 9 -0.41\\ 8 9 -0.21\\ 9 9 0\\ 10 9 0.21\\ 11 9 0.41\\ 12 9 0.59\\ 13 9 0.74\\ 14 9 0.87\\ 15 9 0.95\\ 16 9 0.99\\ 17 9 0.99\\ 18 9 0.95\\ 19 9 0.87\\ 20 9 0.74\\ 21 9 0.59\\ 22 9 0.41\\ 23 9 0.21\\ 24 9 0\\ 25 9 -0.21\\ 26 9 -0.41\\ 27 9 -0.59\\ 28 9 -0.74\\ 29 9 -0.87\\
0 10 -0.87\\ 1 10 -0.95\\ 2 10 -0.99\\ 3 10 -0.99\\ 4 10 -0.95\\ 5 10 -0.87\\ 6 10 -0.74\\ 7 10 -0.59\\ 8 10 -0.41\\ 9 10 -0.21\\ 10 10 0\\ 11 10 0.21\\ 12 10 0.41\\ 13 10 0.59\\ 14 10 0.74\\ 15 10 0.87\\ 16 10 0.95\\ 17 10 0.99\\ 18 10 0.99\\ 19 10 0.95\\ 20 10 0.87\\ 21 10 0.74\\ 22 10 0.59\\ 23 10 0.41\\ 24 10 0.21\\ 25 10 0\\ 26 10 -0.21\\ 27 10 -0.41\\ 28 10 -0.59\\ 29 10 -0.74\\
0 11 -0.74\\ 1 11 -0.87\\ 2 11 -0.95\\ 3 11 -0.99\\ 4 11 -0.99\\ 5 11 -0.95\\ 6 11 -0.87\\ 7 11 -0.74\\ 8 11 -0.59\\ 9 11 -0.41\\ 10 11 -0.21\\ 11 11 0\\ 12 11 0.21\\ 13 11 0.41\\ 14 11 0.59\\ 15 11 0.74\\ 16 11 0.87\\ 17 11 0.95\\ 18 11 0.99\\ 19 11 0.99\\ 20 11 0.95\\ 21 11 0.87\\ 22 11 0.74\\ 23 11 0.59\\ 24 11 0.41\\ 25 11 0.21\\ 26 11 0\\ 27 11 -0.21\\ 28 11 -0.41\\ 29 11 -0.59\\
0 12 -0.59\\ 1 12 -0.74\\ 2 12 -0.87\\ 3 12 -0.95\\ 4 12 -0.99\\ 5 12 -0.99\\ 6 12 -0.95\\ 7 12 -0.87\\ 8 12 -0.74\\ 9 12 -0.59\\ 10 12 -0.41\\ 11 12 -0.21\\ 12 12 0\\ 13 12 0.21\\ 14 12 0.41\\ 15 12 0.59\\ 16 12 0.74\\ 17 12 0.87\\ 18 12 0.95\\ 19 12 0.99\\ 20 12 0.99\\ 21 12 0.95\\ 22 12 0.87\\ 23 12 0.74\\ 24 12 0.59\\ 25 12 0.41\\ 26 12 0.21\\ 27 12 0\\ 28 12 -0.21\\ 29 12 -0.41\\
0 13 -0.41\\ 1 13 -0.59\\ 2 13 -0.74\\ 3 13 -0.87\\ 4 13 -0.95\\ 5 13 -0.99\\ 6 13 -0.99\\ 7 13 -0.95\\ 8 13 -0.87\\ 9 13 -0.74\\ 10 13 -0.59\\ 11 13 -0.41\\ 12 13 -0.21\\ 13 13 0\\ 14 13 0.21\\ 15 13 0.41\\ 16 13 0.59\\ 17 13 0.74\\ 18 13 0.87\\ 19 13 0.95\\ 20 13 0.99\\ 21 13 0.99\\ 22 13 0.95\\ 23 13 0.87\\ 24 13 0.74\\ 25 13 0.59\\ 26 13 0.41\\ 27 13 0.21\\ 28 13 0\\ 29 13 -0.21\\
0 14 -0.21\\ 1 14 -0.41\\ 2 14 -0.59\\ 3 14 -0.74\\ 4 14 -0.87\\ 5 14 -0.95\\ 6 14 -0.99\\ 7 14 -0.99\\ 8 14 -0.95\\ 9 14 -0.87\\ 10 14 -0.74\\ 11 14 -0.59\\ 12 14 -0.41\\ 13 14 -0.21\\ 14 14 0\\ 15 14 0.21\\ 16 14 0.41\\ 17 14 0.59\\ 18 14 0.74\\ 19 14 0.87\\ 20 14 0.95\\ 21 14 0.99\\ 22 14 0.99\\ 23 14 0.95\\ 24 14 0.87\\ 25 14 0.74\\ 26 14 0.59\\ 27 14 0.41\\ 28 14 0.21\\ 29 14 0\\
0 15 0\\ 1 15 -0.21\\ 2 15 -0.41\\ 3 15 -0.59\\ 4 15 -0.74\\ 5 15 -0.87\\ 6 15 -0.95\\ 7 15 -0.99\\ 8 15 -0.99\\ 9 15 -0.95\\ 10 15 -0.87\\ 11 15 -0.74\\ 12 15 -0.59\\ 13 15 -0.41\\ 14 15 -0.21\\ 15 15 0\\ 16 15 0.21\\ 17 15 0.41\\ 18 15 0.59\\ 19 15 0.74\\ 20 15 0.87\\ 21 15 0.95\\ 22 15 0.99\\ 23 15 0.99\\ 24 15 0.95\\ 25 15 0.87\\ 26 15 0.74\\ 27 15 0.59\\ 28 15 0.41\\ 29 15 0.21\\
0 16 0.21\\ 1 16 0\\ 2 16 -0.21\\ 3 16 -0.41\\ 4 16 -0.59\\ 5 16 -0.74\\ 6 16 -0.87\\ 7 16 -0.95\\ 8 16 -0.99\\ 9 16 -0.99\\ 10 16 -0.95\\ 11 16 -0.87\\ 12 16 -0.74\\ 13 16 -0.59\\ 14 16 -0.41\\ 15 16 -0.21\\ 16 16 0\\ 17 16 0.21\\ 18 16 0.41\\ 19 16 0.59\\ 20 16 0.74\\ 21 16 0.87\\ 22 16 0.95\\ 23 16 0.99\\ 24 16 0.99\\ 25 16 0.95\\ 26 16 0.87\\ 27 16 0.74\\ 28 16 0.59\\ 29 16 0.41\\
0 17 0.41\\ 1 17 0.21\\ 2 17 0\\ 3 17 -0.21\\ 4 17 -0.41\\ 5 17 -0.59\\ 6 17 -0.74\\ 7 17 -0.87\\ 8 17 -0.95\\ 9 17 -0.99\\ 10 17 -0.99\\ 11 17 -0.95\\ 12 17 -0.87\\ 13 17 -0.74\\ 14 17 -0.59\\ 15 17 -0.41\\ 16 17 -0.21\\ 17 17 0\\ 18 17 0.21\\ 19 17 0.41\\ 20 17 0.59\\ 21 17 0.74\\ 22 17 0.87\\ 23 17 0.95\\ 24 17 0.99\\ 25 17 0.99\\ 26 17 0.95\\ 27 17 0.87\\ 28 17 0.74\\ 29 17 0.59\\
0 18 0.59\\ 1 18 0.41\\ 2 18 0.21\\ 3 18 0\\ 4 18 -0.21\\ 5 18 -0.41\\ 6 18 -0.59\\ 7 18 -0.74\\ 8 18 -0.87\\ 9 18 -0.95\\ 10 18 -0.99\\ 11 18 -0.99\\ 12 18 -0.95\\ 13 18 -0.87\\ 14 18 -0.74\\ 15 18 -0.59\\ 16 18 -0.41\\ 17 18 -0.21\\ 18 18 0\\ 19 18 0.21\\ 20 18 0.41\\ 21 18 0.59\\ 22 18 0.74\\ 23 18 0.87\\ 24 18 0.95\\ 25 18 0.99\\ 26 18 0.99\\ 27 18 0.95\\ 28 18 0.87\\ 29 18 0.74\\
0 19 0.74\\ 1 19 0.59\\ 2 19 0.41\\ 3 19 0.21\\ 4 19 0\\ 5 19 -0.21\\ 6 19 -0.41\\ 7 19 -0.59\\ 8 19 -0.74\\ 9 19 -0.87\\ 10 19 -0.95\\ 11 19 -0.99\\ 12 19 -0.99\\ 13 19 -0.95\\ 14 19 -0.87\\ 15 19 -0.74\\ 16 19 -0.59\\ 17 19 -0.41\\ 18 19 -0.21\\ 19 19 0\\ 20 19 0.21\\ 21 19 0.41\\ 22 19 0.59\\ 23 19 0.74\\ 24 19 0.87\\ 25 19 0.95\\ 26 19 0.99\\ 27 19 0.99\\ 28 19 0.95\\ 29 19 0.87\\
0 20 0.87\\ 1 20 0.74\\ 2 20 0.59\\ 3 20 0.41\\ 4 20 0.21\\ 5 20 0\\ 6 20 -0.21\\ 7 20 -0.41\\ 8 20 -0.59\\ 9 20 -0.74\\ 10 20 -0.87\\ 11 20 -0.95\\ 12 20 -0.99\\ 13 20 -0.99\\ 14 20 -0.95\\ 15 20 -0.87\\ 16 20 -0.74\\ 17 20 -0.59\\ 18 20 -0.41\\ 19 20 -0.21\\ 20 20 0\\ 21 20 0.21\\ 22 20 0.41\\ 23 20 0.59\\ 24 20 0.74\\ 25 20 0.87\\ 26 20 0.95\\ 27 20 0.99\\ 28 20 0.99\\ 29 20 0.95\\
0 21 0.95\\ 1 21 0.87\\ 2 21 0.74\\ 3 21 0.59\\ 4 21 0.41\\ 5 21 0.21\\ 6 21 0\\ 7 21 -0.21\\ 8 21 -0.41\\ 9 21 -0.59\\ 10 21 -0.74\\ 11 21 -0.87\\ 12 21 -0.95\\ 13 21 -0.99\\ 14 21 -0.99\\ 15 21 -0.95\\ 16 21 -0.87\\ 17 21 -0.74\\ 18 21 -0.59\\ 19 21 -0.41\\ 20 21 -0.21\\ 21 21 0\\ 22 21 0.21\\ 23 21 0.41\\ 24 21 0.59\\ 25 21 0.74\\ 26 21 0.87\\ 27 21 0.95\\ 28 21 0.99\\ 29 21 0.99\\
0 22 0.99\\ 1 22 0.95\\ 2 22 0.87\\ 3 22 0.74\\ 4 22 0.59\\ 5 22 0.41\\ 6 22 0.21\\ 7 22 0\\ 8 22 -0.21\\ 9 22 -0.41\\ 10 22 -0.59\\ 11 22 -0.74\\ 12 22 -0.87\\ 13 22 -0.95\\ 14 22 -0.99\\ 15 22 -0.99\\ 16 22 -0.95\\ 17 22 -0.87\\ 18 22 -0.74\\ 19 22 -0.59\\ 20 22 -0.41\\ 21 22 -0.21\\ 22 22 0\\ 23 22 0.21\\ 24 22 0.41\\ 25 22 0.59\\ 26 22 0.74\\ 27 22 0.87\\ 28 22 0.95\\ 29 22 0.99\\
0 23 0.99\\ 1 23 0.99\\ 2 23 0.95\\ 3 23 0.87\\ 4 23 0.74\\ 5 23 0.59\\ 6 23 0.41\\ 7 23 0.21\\ 8 23 0\\ 9 23 -0.21\\ 10 23 -0.41\\ 11 23 -0.59\\ 12 23 -0.74\\ 13 23 -0.87\\ 14 23 -0.95\\ 15 23 -0.99\\ 16 23 -0.99\\ 17 23 -0.95\\ 18 23 -0.87\\ 19 23 -0.74\\ 20 23 -0.59\\ 21 23 -0.41\\ 22 23 -0.21\\ 23 23 0\\ 24 23 0.21\\ 25 23 0.41\\ 26 23 0.59\\ 27 23 0.74\\ 28 23 0.87\\ 29 23 0.95\\
0 24 0.95\\ 1 24 0.99\\ 2 24 0.99\\ 3 24 0.95\\ 4 24 0.87\\ 5 24 0.74\\ 6 24 0.59\\ 7 24 0.41\\ 8 24 0.21\\ 9 24 0\\ 10 24 -0.21\\ 11 24 -0.41\\ 12 24 -0.59\\ 13 24 -0.74\\ 14 24 -0.87\\ 15 24 -0.95\\ 16 24 -0.99\\ 17 24 -0.99\\ 18 24 -0.95\\ 19 24 -0.87\\ 20 24 -0.74\\ 21 24 -0.59\\ 22 24 -0.41\\ 23 24 -0.21\\ 24 24 0\\ 25 24 0.21\\ 26 24 0.41\\ 27 24 0.59\\ 28 24 0.74\\ 29 24 0.87\\
0 25 0.87\\ 1 25 0.95\\ 2 25 0.99\\ 3 25 0.99\\ 4 25 0.95\\ 5 25 0.87\\ 6 25 0.74\\ 7 25 0.59\\ 8 25 0.41\\ 9 25 0.21\\ 10 25 0\\ 11 25 -0.21\\ 12 25 -0.41\\ 13 25 -0.59\\ 14 25 -0.74\\ 15 25 -0.87\\ 16 25 -0.95\\ 17 25 -0.99\\ 18 25 -0.99\\ 19 25 -0.95\\ 20 25 -0.87\\ 21 25 -0.74\\ 22 25 -0.59\\ 23 25 -0.41\\ 24 25 -0.21\\ 25 25 0\\ 26 25 0.21\\ 27 25 0.41\\ 28 25 0.59\\ 29 25 0.74\\
0 26 0.74\\ 1 26 0.87\\ 2 26 0.95\\ 3 26 0.99\\ 4 26 0.99\\ 5 26 0.95\\ 6 26 0.87\\ 7 26 0.74\\ 8 26 0.59\\ 9 26 0.41\\ 10 26 0.21\\ 11 26 0\\ 12 26 -0.21\\ 13 26 -0.41\\ 14 26 -0.59\\ 15 26 -0.74\\ 16 26 -0.87\\ 17 26 -0.95\\ 18 26 -0.99\\ 19 26 -0.99\\ 20 26 -0.95\\ 21 26 -0.87\\ 22 26 -0.74\\ 23 26 -0.59\\ 24 26 -0.41\\ 25 26 -0.21\\ 26 26 0\\ 27 26 0.21\\ 28 26 0.41\\ 29 26 0.59\\
0 27 0.59\\ 1 27 0.74\\ 2 27 0.87\\ 3 27 0.95\\ 4 27 0.99\\ 5 27 0.99\\ 6 27 0.95\\ 7 27 0.87\\ 8 27 0.74\\ 9 27 0.59\\ 10 27 0.41\\ 11 27 0.21\\ 12 27 0\\ 13 27 -0.21\\ 14 27 -0.41\\ 15 27 -0.59\\ 16 27 -0.74\\ 17 27 -0.87\\ 18 27 -0.95\\ 19 27 -0.99\\ 20 27 -0.99\\ 21 27 -0.95\\ 22 27 -0.87\\ 23 27 -0.74\\ 24 27 -0.59\\ 25 27 -0.41\\ 26 27 -0.21\\ 27 27 0\\ 28 27 0.21\\ 29 27 0.41\\
0 28 0.41\\ 1 28 0.59\\ 2 28 0.74\\ 3 28 0.87\\ 4 28 0.95\\ 5 28 0.99\\ 6 28 0.99\\ 7 28 0.95\\ 8 28 0.87\\ 9 28 0.74\\ 10 28 0.59\\ 11 28 0.41\\ 12 28 0.21\\ 13 28 0\\ 14 28 -0.21\\ 15 28 -0.41\\ 16 28 -0.59\\ 17 28 -0.74\\ 18 28 -0.87\\ 19 28 -0.95\\ 20 28 -0.99\\ 21 28 -0.99\\ 22 28 -0.95\\ 23 28 -0.87\\ 24 28 -0.74\\ 25 28 -0.59\\ 26 28 -0.41\\ 27 28 -0.21\\ 28 28 0\\ 29 28 0.21\\
0 29 0.21\\ 1 29 0.41\\ 2 29 0.59\\ 3 29 0.74\\ 4 29 0.87\\ 5 29 0.95\\ 6 29 0.99\\ 7 29 0.99\\ 8 29 0.95\\ 9 29 0.87\\ 10 29 0.74\\ 11 29 0.59\\ 12 29 0.41\\ 13 29 0.21\\ 14 29 0\\ 15 29 -0.21\\ 16 29 -0.41\\ 17 29 -0.59\\ 18 29 -0.74\\ 19 29 -0.87\\ 20 29 -0.95\\ 21 29 -0.99\\ 22 29 -0.99\\ 23 29 -0.95\\ 24 29 -0.87\\ 25 29 -0.74\\ 26 29 -0.59\\ 27 29 -0.41\\ 28 29 -0.21\\ 29 29 0\\
};
\addplot[dl] coordinates {(14.5,0) (14.5,29)};
\addplot[dl] coordinates {(0,14.5) (29,14.5)};
\end{axis}
\node[font=\ff] at ([yshift=-37.75pt]ra.south) {(a)};
% ---------- right (b)
\begin{axis}[pb, name=rb, at={(475pt,-9.75pt)}, anchor=north west]
\addplot[pl] table[x=rb, y=y] {\profb};
\end{axis}
\node[font=\ff] at ([yshift=-36.75pt]rb.south) {(b)};
% ---------- right (c)
\begin{axis}[pc, name=rc, at={(322pt,-164pt)}, anchor=north west]
\addplot[pl] table[x=x, y=rc] {\profc};
\end{axis}
\node[font=\ff] at ([yshift=-36.5pt]rc.south) {(c)};
\end{tikzpicture}
\end{document}
